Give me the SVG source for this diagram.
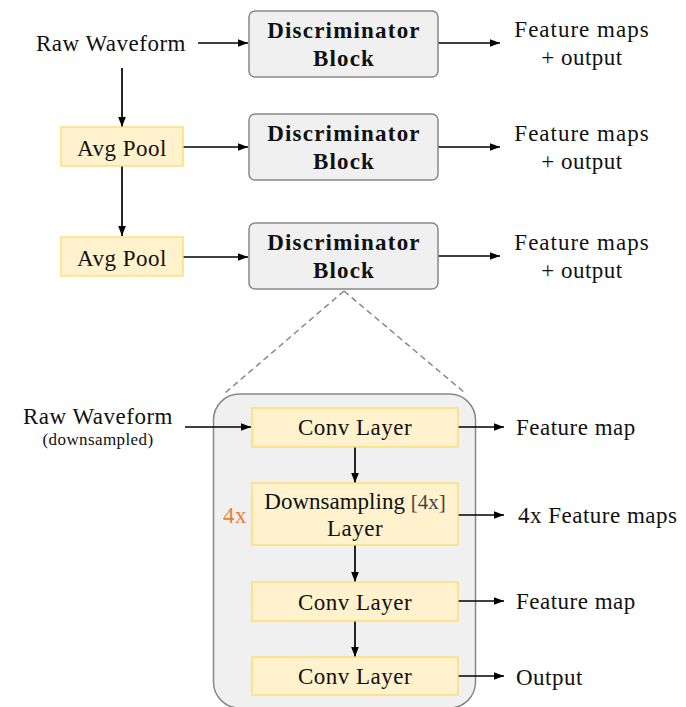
<svg xmlns="http://www.w3.org/2000/svg" width="686" height="707" viewBox="0 0 686 707" font-family="Liberation Serif, Times New Roman, serif">
<defs>
<style>
text{fill:#111;font-size:23px;letter-spacing:0.5px}
.b{font-weight:bold;letter-spacing:1.2px}
.c{text-anchor:middle}
.disc{fill:#f0f0f0;stroke:#888;stroke-width:1.5}
.yl{fill:#fff2cc;stroke:#ffd966;stroke-width:1.3}
.ln{stroke:#000;stroke-width:1.7;fill:none;marker-end:url(#ah)}
.dash{stroke:#888;stroke-width:1.5;stroke-dasharray:6 4;fill:none}
</style>
<marker id="ah" markerUnits="userSpaceOnUse" markerWidth="10" markerHeight="10" viewBox="0 0 10 10" refX="10" refY="5" orient="auto">
<path d="M0,1.2 L10,5 L0,8.8 Z" fill="#000"/>
</marker>
</defs>
<rect x="0" y="0" width="686" height="707" fill="#fff"/>

<g id="container">
<rect x="213.5" y="394" width="262" height="314" rx="26" fill="#f0f0f0" stroke="#888" stroke-width="1.5"/>
</g>

<g id="connectors">
<line class="ln" x1="198" y1="43" x2="248" y2="43"/>
<line class="ln" x1="438" y1="43" x2="500" y2="43"/>
<line class="ln" x1="438" y1="147" x2="500" y2="147"/>
<line class="ln" x1="438" y1="256" x2="500" y2="256"/>
<line class="ln" x1="183" y1="147" x2="248" y2="147"/>
<line class="ln" x1="183" y1="257" x2="248" y2="257"/>
<line class="ln" x1="122" y1="68" x2="122" y2="127"/>
<line class="ln" x1="122" y1="166" x2="122" y2="236"/>
<line class="dash" x1="344" y1="291" x2="225" y2="393"/>
<line class="dash" x1="344" y1="291" x2="465" y2="393"/>
<line class="ln" x1="185" y1="427" x2="251" y2="427"/>
<line class="ln" x1="355" y1="447" x2="355" y2="483"/>
<line class="ln" x1="355" y1="545" x2="355" y2="582"/>
<line class="ln" x1="355" y1="621" x2="355" y2="657"/>
<line class="ln" x1="458" y1="427" x2="504" y2="427"/>
<line class="ln" x1="458" y1="515" x2="504" y2="515"/>
<line class="ln" x1="458" y1="601" x2="504" y2="601"/>
<line class="ln" x1="458" y1="676" x2="504" y2="676"/>
</g>

<g id="raw-waveform"><text class="c" x="111" y="51">Raw Waveform</text></g>

<g id="disc1">
<rect class="disc" x="249" y="11" width="189" height="66" rx="6"/>
<text class="b c" x="344" y="38">Discriminator</text>
<text class="b c" x="344" y="66">Block</text>
</g>
<g id="disc2">
<rect class="disc" x="249" y="114" width="189" height="66" rx="6"/>
<text class="b c" x="344" y="141">Discriminator</text>
<text class="b c" x="344" y="169">Block</text>
</g>
<g id="disc3">
<rect class="disc" x="249" y="223" width="189" height="66" rx="6"/>
<text class="b c" x="344" y="250">Discriminator</text>
<text class="b c" x="344" y="278">Block</text>
</g>

<g id="out1"><text class="c" x="582" y="37" style="letter-spacing:1px">Feature maps</text><text class="c" x="582" y="65">+ output</text></g>
<g id="out2"><text class="c" x="582" y="141" style="letter-spacing:1px">Feature maps</text><text class="c" x="582" y="169">+ output</text></g>
<g id="out3"><text class="c" x="582" y="250" style="letter-spacing:1px">Feature maps</text><text class="c" x="582" y="278">+ output</text></g>

<g id="avgpool1">
<rect class="yl" x="61" y="127" width="122" height="39"/>
<text class="c" x="122" y="156">Avg Pool</text>
</g>
<g id="avgpool2">
<rect class="yl" x="61" y="237" width="122" height="39"/>
<text class="c" x="122" y="266">Avg Pool</text>
</g>

<g id="raw-waveform-ds">
<text class="c" x="98" y="424">Raw Waveform</text>
<text class="c" x="98" y="445" style="font-size:17px;letter-spacing:0.4px">(downsampled)</text>
</g>

<g id="conv1">
<rect class="yl" x="252" y="408" width="206" height="39"/>
<text class="c" x="355" y="435">Conv Layer</text>
</g>
<g id="downsampling">
<rect class="yl" x="252" y="483" width="206" height="62"/>
<text class="c" x="355" y="509" style="letter-spacing:0">Downsampling <tspan fill="#444" style="font-size:21px">[4x]</tspan></text>
<text class="c" x="355" y="536">Layer</text>
<text class="c" x="235" y="523" style="fill:#e8803a">4x</text>
</g>
<g id="conv2">
<rect class="yl" x="252" y="582" width="206" height="39"/>
<text class="c" x="355" y="610">Conv Layer</text>
</g>
<g id="conv3">
<rect class="yl" x="252" y="657" width="206" height="38"/>
<text class="c" x="355" y="684">Conv Layer</text>
</g>

<g id="labels-right">
<text x="516" y="435">Feature map</text>
<text x="518" y="523">4x Feature maps</text>
<text x="516" y="609">Feature map</text>
<text x="516" y="685">Output</text>
</g>
</svg>
